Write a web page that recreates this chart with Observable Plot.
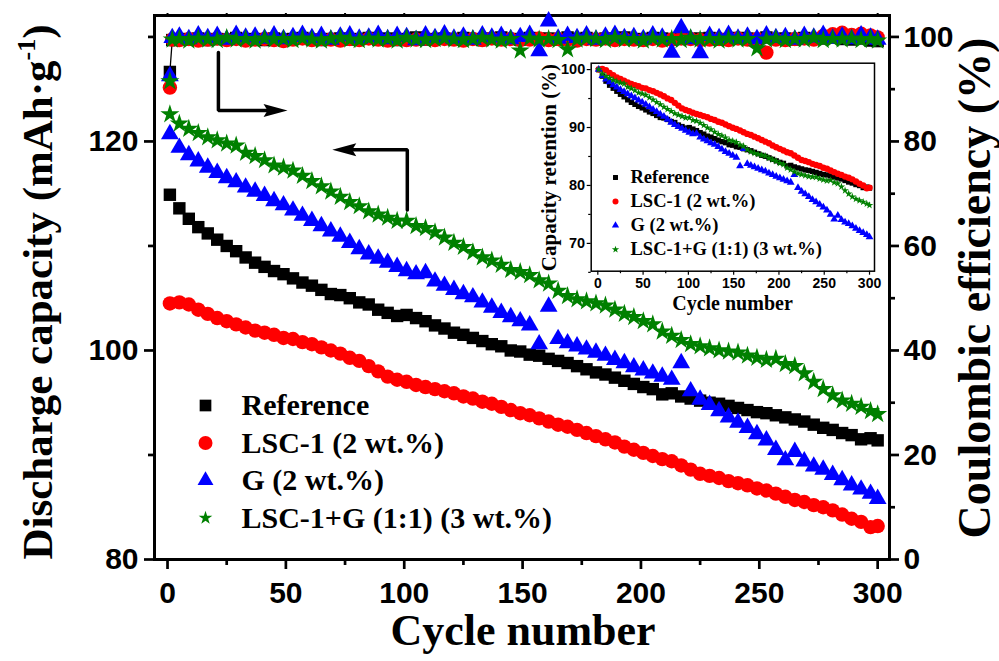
<!DOCTYPE html>
<html><head><meta charset="utf-8">
<script src="https://cdn.jsdelivr.net/npm/d3@7"></script>
<script src="https://cdn.jsdelivr.net/npm/@observablehq/plot@0.6"></script>
<style>
body{margin:0;background:#fff;}
#wrap{position:relative;width:999px;height:661px;overflow:hidden;background:#fff;}
#wrap svg{position:absolute;}
</style></head><body><div id="wrap"></div>
<script>
// ---------- data ----------
const seriesNames = ["Reference", "LSC-1 (2 wt.%)", "G (2 wt.%)", "LSC-1+G (1:1) (3 wt.%)"];
const seriesColors = ["#000000", "#ff0000", "#0000ff", "#008000"];
const seriesSymbols = ["square", "circle", "triangle", "star"];

const cycles = [1,5,9,13,17,21,25,29,33,37,41,45,49,53,57,61,65,69,73,77,81,85,89,93,97,101,105,109,113,117,121,125,129,133,137,141,145,149,153,157,161,165,169,173,177,181,185,189,193,197,201,205,209,213,217,221,225,229,233,237,241,245,249,253,257,261,265,269,273,277,281,285,289,293,297,300];

const capReference = [114.9,113.6,112.6,111.8,111.2,110.6,110.0,109.5,108.9,108.4,
  108.0,107.6,107.3,106.9,106.5,106.2,105.8,105.4,105.3,105.0,
  104.6,104.4,103.9,103.6,103.3,103.4,103.1,102.8,102.4,102.1,
  101.7,101.5,101.2,100.9,100.6,100.4,100.0,99.9,99.6,99.5,
  99.2,99.0,98.8,98.5,98.2,97.9,97.7,97.4,97.1,96.8,
  96.5,96.3,95.8,95.9,95.6,95.4,95.2,95.0,94.9,94.7,
  94.5,94.3,94.1,94.0,93.8,93.6,93.4,93.2,92.9,92.6,
  92.4,92.1,91.9,91.5,91.6,91.4];
const capLSC1 = [104.5,104.6,104.4,103.9,103.5,103.1,102.8,102.5,102.2,101.9,
  101.7,101.5,101.2,101.1,100.8,100.6,100.3,100.0,99.7,99.3,
  99.0,98.5,98.0,97.5,97.2,97.0,96.7,96.5,96.3,96.1,
  95.9,95.6,95.4,95.1,94.9,94.6,94.3,94.0,93.8,93.5,
  93.2,92.9,92.7,92.4,92.1,91.8,91.5,91.2,90.8,90.5,
  90.2,89.9,89.6,89.4,89.0,88.6,88.2,88.0,87.8,87.5,
  87.3,87.1,86.8,86.6,86.3,86.0,85.7,85.5,85.2,85.0,
  84.7,84.3,83.9,83.6,83.1,83.2];
const capG = [120.7,119.4,118.7,118.1,117.5,117.0,116.5,116.1,115.6,115.2,
  114.8,114.3,113.9,113.4,112.9,112.4,111.9,111.4,110.9,110.3,
  109.7,109.2,108.8,108.4,108.0,107.6,107.3,107.4,106.6,106.2,
  105.8,105.4,105.1,104.6,104.1,103.6,103.2,102.8,102.4,100.6,
  104.2,101.1,100.7,100.4,100.1,99.8,99.5,99.1,98.8,98.4,
  98.1,97.8,97.5,97.2,98.8,96.1,95.3,94.8,94.2,93.6,
  93.1,92.6,92.0,91.4,90.5,89.5,90.3,89.4,88.9,88.6,
  88.1,87.6,87.1,86.7,86.3,85.8];
const capLSCG = [122.6,121.7,121.2,120.8,120.4,120.1,119.8,119.6,118.9,118.6,
  118.2,117.7,117.5,117.2,116.7,116.2,115.7,115.2,114.7,114.2,
  113.8,113.3,113.0,112.7,112.4,112.4,111.9,111.7,111.3,110.8,
  110.3,109.9,109.4,108.9,108.6,108.2,107.7,107.5,107.2,106.7,
  106.4,105.7,105.2,104.9,104.7,104.5,104.3,103.9,103.5,103.2,
  102.8,102.5,101.8,101.4,101.0,100.6,100.4,100.2,100.0,99.9,
  99.8,99.5,99.3,99.1,99.2,98.7,98.5,97.8,97.0,96.3,
  95.7,95.2,94.9,94.6,94.2,93.9];

const ceCycles = [1,2,5,9,13,17,21,25,29,33,37,41,45,49,53,57,61,65,69,73,77,81,85,89,93,97,101,105,109,113,117,121,125,129,133,137,141,145,149,153,157,161,165,169,173,177,181,185,189,193,197,201,205,209,213,217,221,225,229,233,237,241,245,249,253,257,261,265,269,273,277,281,285,289,293,297,300];

const ceReference = [93.3,99.4,
  99.6,99.5,99.7,99.4,99.6,99.5,99.8,99.5,99.6,99.4,
  99.7,99.5,99.6,99.8,99.5,99.4,99.6,99.7,99.5,99.6,
  99.8,99.5,99.7,99.4,99.6,99.9,99.5,99.6,99.7,99.5,
  99.8,99.6,99.4,99.7,99.9,99.6,99.5,99.8,99.6,99.7,
  99.5,99.9,99.6,99.8,99.5,99.7,99.6,99.9,99.5,99.6,
  99.8,99.7,99.5,99.9,99.6,99.7,99.8,99.5,99.6,99.8,
  99.7,99.5,99.9,99.6,99.7,99.5,99.8,99.6,99.7,99.9,
  99.6,99.5,99.7,99.3,99.2];
const ceLSC1 = [90.3,99.5,
  99.4,99.6,99.3,99.5,99.7,99.4,99.6,99.3,99.5,99.6,
  99.4,99.2,99.5,99.7,99.4,99.6,99.5,99.3,99.6,99.4,
  99.7,99.5,99.3,99.6,99.4,99.5,99.7,99.4,99.6,99.5,
  99.3,99.6,99.4,99.7,99.5,99.6,99.4,99.5,99.7,99.4,
  99.6,99.5,99.3,99.6,99.5,99.7,99.4,99.6,99.5,99.4,
  99.6,99.3,99.5,99.7,99.6,99.4,99.5,99.6,99.4,99.7,
  99.5,99.6,97.0,99.5,99.4,99.6,99.7,99.5,100.2,100.5,
  100.8,100.4,100.6,100.3,99.9];
const ceG = [92.5,99.8,
  100.1,99.6,100.3,99.8,100.2,99.5,100.4,99.9,100.1,99.7,
  100.3,99.6,100.0,100.4,99.8,100.2,99.5,100.1,100.3,99.7,
  99.9,100.4,99.6,100.2,100.0,99.4,100.3,99.8,100.5,99.7,
  100.1,99.5,100.3,99.9,100.2,99.6,100.0,100.4,97.3,103.0,
  99.7,100.2,99.8,100.3,99.5,100.1,100.4,99.8,100.0,99.6,
  100.3,99.9,97.0,101.7,99.6,96.9,100.2,99.8,100.4,99.7,
  100.1,99.6,100.3,99.8,100.0,99.5,100.2,99.9,100.4,99.7,
  100.1,99.6,100.3,99.9,99.5];
const ceLSCG = [91.5,99.5,
  99.6,99.3,99.7,99.5,99.4,99.8,99.5,99.6,99.3,99.7,
  99.5,99.6,99.4,99.7,99.5,99.3,99.6,99.8,99.5,99.4,
  99.7,99.5,99.6,99.3,99.8,99.5,99.4,99.6,99.7,99.5,
  99.4,99.6,99.8,99.5,99.3,99.6,97.4,99.7,99.5,99.6,
  99.4,97.6,99.5,99.7,99.6,99.4,99.8,99.5,99.6,99.3,
  99.7,99.5,99.6,99.4,99.8,99.5,99.6,99.3,99.7,99.5,
  99.6,97.8,99.5,99.7,99.4,99.6,99.5,99.8,99.4,99.6,
  99.5,99.7,99.4,99.6,99.3];

const xTicks = [0,50,100,150,200,250,300];
const xMinor = [25,75,125,175,225,275];
const leftTicks = [80,100,120];
const leftMinor = [90,110,130];
const rightTicks = [0,20,40,60,80,100];
const rightMinor = [10,30,50,70,90];
const insetYTicks = [70,80,90,100];
const insetYMinor = [65,75,85,95];

// annotation arrows (cycle, capacity units)
const arrowRightPath = [[21.5,128.5],[21.5,122.95],[44,122.95]];
const arrowRightTip = [[50.7,122.95]];
const arrowLeftPath = [[101.3,113.45],[101.3,119.2],[76,119.2]];
const arrowLeftTip = [[69.6,119.2]];

// ---------- helpers ----------
const serif = "'Liberation Serif','Times New Roman',serif";
const sans = "'Liberation Sans',Arial,sans-serif";
const capSeries = [capReference, capLSC1, capG, capLSCG];
const ceSeries = [ceReference, ceLSC1, ceG, ceLSCG];
const toLeft = v => 80 + v / 2; // coulombic efficiency -> left-axis units
const rows = (xs, ys) => ys.map((v, i) => ({cycle: xs[i], value: v}));
const mainR = [7.0, 7.2, 6.6, 6.0];
const legendR = [6.6, 7.0, 5.9, 4.3];
const insetR = [3.0, 3.2, 2.9, 2.4];
const insetLegendR = [2.8, 3.0, 2.7, 2.3];

const headRight = {draw(c){ c.moveTo(0,0); c.lineTo(-24,-6.5); c.lineTo(-20,0); c.lineTo(-24,6.5); c.closePath(); }};
const headLeft = {draw(c){ c.moveTo(0,0); c.lineTo(24,-6.5); c.lineTo(20,0); c.lineTo(24,6.5); c.closePath(); }};
const blank = () => "";

// ---------- main plot ----------
const mainMarks = [
  Plot.axisX({ticks: xTicks, tickSize: 10, tickPadding: 12, strokeWidth: 2.7, fontSize: 30, fontWeight: "bold", fontFamily: sans, fill: "black", label: null}),
  Plot.axisX({ticks: xMinor, tickSize: 6, tickFormat: blank, strokeWidth: 2.7, label: null}),
  Plot.axisX({anchor: "top", ticks: xTicks.concat(xMinor), tickSize: 3, tickFormat: blank, strokeWidth: 2, label: null}),
  Plot.axisY({ticks: leftTicks, tickSize: 10, tickPadding: 6, strokeWidth: 2.7, fontSize: 30, fontWeight: "bold", fontFamily: sans, fill: "black", label: null}),
  Plot.axisY({ticks: leftMinor, tickSize: 6, tickFormat: blank, strokeWidth: 2.7, label: null}),
  Plot.axisY({anchor: "right", ticks: rightTicks.map(toLeft), tickFormat: d => String(Math.round((d - 80) * 2)), tickSize: 9, tickPadding: 5, strokeWidth: 2.7, fontSize: 30, fontWeight: "bold", fontFamily: sans, fill: "black", label: null}),
  Plot.axisY({anchor: "right", ticks: rightMinor.map(toLeft), tickSize: 5, tickFormat: blank, strokeWidth: 2.7, label: null}),
  Plot.frame({stroke: "black", strokeWidth: 3}),
  Plot.line(rows(ceCycles, ceReference), {x: "cycle", y: d => toLeft(d.value), stroke: "black", strokeWidth: 1.3})
];
seriesNames.forEach((name, s) => {
  mainMarks.push(Plot.dot(rows(ceCycles, ceSeries[s]), {x: "cycle", y: d => toLeft(d.value), symbol: seriesSymbols[s], fill: seriesColors[s], r: mainR[s]}));
});
seriesNames.forEach((name, s) => {
  mainMarks.push(Plot.dot(rows(cycles, capSeries[s]), {x: "cycle", y: "value", symbol: seriesSymbols[s], fill: seriesColors[s], r: mainR[s]}));
});
mainMarks.push(
  Plot.line(arrowRightPath, {x: d => d[0], y: d => d[1], stroke: "black", strokeWidth: 3.5, strokeLinejoin: "miter"}),
  Plot.dot(arrowRightTip, {x: d => d[0], y: d => d[1], symbol: headRight, fill: "black"}),
  Plot.line(arrowLeftPath, {x: d => d[0], y: d => d[1], stroke: "black", strokeWidth: 3.5, strokeLinejoin: "miter"}),
  Plot.dot(arrowLeftTip, {x: d => d[0], y: d => d[1], symbol: headLeft, fill: "black"})
);
seriesNames.forEach((name, s) => {
  mainMarks.push(Plot.dot([name], {frameAnchor: "top-left", dx: 51, dy: 390 + s * 37.5, symbol: seriesSymbols[s], fill: seriesColors[s], r: legendR[s]}));
  mainMarks.push(Plot.text([name], {frameAnchor: "top-left", lineAnchor: "middle", dx: 87, dy: 390 + s * 37.5, text: d => d, textAnchor: "start", fontSize: 30, fontWeight: "bold", fontFamily: serif, fill: "black"}));
});

const mainSvg = Plot.plot({
  width: 999, height: 661,
  marginLeft: 154, marginRight: 110, marginTop: 15, marginBottom: 102,
  x: {domain: [-5.5, 305], axis: null},
  y: {domain: [80, 132.05], axis: null},
  style: {background: "transparent", overflow: "visible"},
  marks: mainMarks
});
mainSvg.style.left = "0px"; mainSvg.style.top = "0px";
document.getElementById("wrap").appendChild(mainSvg);

{
  const svg = d3.select(mainSvg);
  const t1 = svg.append("text").attr("transform", "translate(52,292) rotate(-90)").attr("text-anchor", "middle")
    .attr("font-family", serif).attr("font-weight", "bold").attr("font-size", 43).attr("fill", "black");
  t1.append("tspan").text("Discharge capacity (mAh·g");
  t1.append("tspan").attr("font-size", 26).attr("dy", -17).text("-1");
  t1.append("tspan").attr("dy", 17).text(")");
  svg.append("text").attr("transform", "translate(990,288) rotate(-90)").attr("text-anchor", "middle")
    .attr("font-family", serif).attr("font-weight", "bold").attr("font-size", 46).attr("fill", "black")
    .text("Coulombic efficiency (%)");
  svg.append("text").attr("x", 523).attr("y", 645).attr("text-anchor", "middle")
    .attr("font-family", serif).attr("font-weight", "bold").attr("font-size", 44).attr("fill", "black")
    .text("Cycle number");
}

// ---------- inset ----------
const insetMarks = [
  Plot.axisX({ticks: xTicks, tickSize: 4, tickPadding: 3, strokeWidth: 1.2, fontSize: 14, fontWeight: "bold", fontFamily: sans, fill: "black", label: null}),
  Plot.axisX({ticks: xMinor, tickSize: 2.5, tickFormat: blank, strokeWidth: 1.2, label: null}),
  Plot.axisY({ticks: insetYTicks, tickSize: 4, tickPadding: 2, strokeWidth: 1.2, fontSize: 14.5, fontWeight: "bold", fontFamily: sans, fill: "black", label: null}),
  Plot.axisY({ticks: insetYMinor, tickSize: 2.5, tickFormat: blank, strokeWidth: 1.2, label: null}),
  Plot.frame({stroke: "black", strokeWidth: 1.5})
];
seriesNames.forEach((name, s) => {
  const base = capSeries[s][0];
  const retention = capSeries[s].map(v => v / base * 100);
  insetMarks.push(Plot.dot(rows(cycles, retention), {x: "cycle", y: "value", symbol: seriesSymbols[s], fill: seriesColors[s], r: insetR[s]}));
});
seriesNames.forEach((name, s) => {
  insetMarks.push(Plot.dot([name], {frameAnchor: "top-left", dx: 24.3, dy: 114.3 + s * 24, symbol: seriesSymbols[s], fill: seriesColors[s], r: insetLegendR[s]}));
  insetMarks.push(Plot.text([name], {frameAnchor: "top-left", lineAnchor: "middle", dx: 39.3, dy: 114.3 + s * 24, text: d => d, textAnchor: "start", fontSize: 18.5, fontWeight: "bold", fontFamily: serif, fill: "black"}));
});
const insetSvg = Plot.plot({
  width: 365, height: 265,
  marginLeft: 70.7, marginRight: 11, marginTop: 12.7, marginBottom: 44.3,
  x: {domain: [-7.3, 305.5], axis: null},
  y: {domain: [65.2, 101.1], axis: null},
  style: {background: "transparent", overflow: "visible"},
  marks: insetMarks
});
insetSvg.style.left = "520px"; insetSvg.style.top = "50px";
document.getElementById("wrap").appendChild(insetSvg);
{
  const svg = d3.select(insetSvg);
  svg.append("text").attr("transform", "translate(36,117.5) rotate(-90)").attr("text-anchor", "middle")
    .attr("font-family", serif).attr("font-weight", "bold").attr("font-size", 21).attr("fill", "black")
    .text("Capacity retention (%)");
  svg.append("text").attr("x", 212.5).attr("y", 259.5).attr("text-anchor", "middle")
    .attr("font-family", serif).attr("font-weight", "bold").attr("font-size", 20).attr("fill", "black")
    .text("Cycle number");
}
</script></body></html>
